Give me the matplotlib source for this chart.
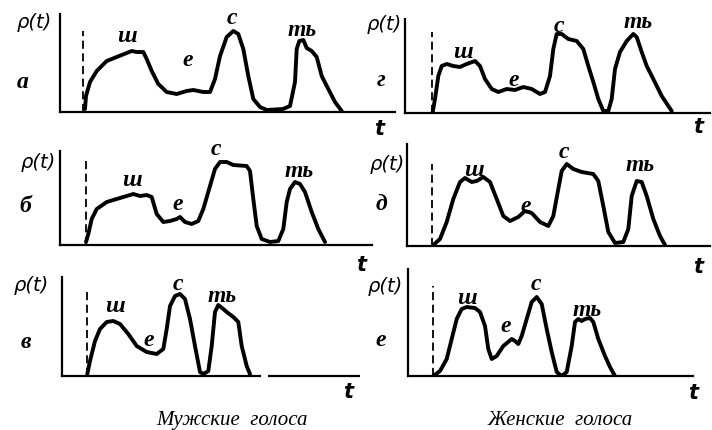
import matplotlib.pyplot as plt

W, H = 712, 431

# curve values: t and rho (panel units, origin at axes corner)
a_t = [25, 26, 30, 36.7, 46.7, 56.7, 66.7, 71.7, 76.7, 83.3, 86.7, 91.7, 98.3, 106.7, 116.7, 126.7,
       133.3, 143.3, 150, 155, 160, 166.7, 173.3, 178.3, 183.3, 188.3, 193.3, 200, 206.7, 223,
       230, 235, 236.7, 239.3, 243.3, 246.7, 251.7, 256.7, 261.7, 268.3, 275, 281.7]
a_p = [3, 16, 30, 41, 51, 55, 59, 61, 60, 60, 53, 41, 28, 20, 18, 21,
       22, 20, 20, 33, 56, 75, 81, 78, 63, 36, 13, 5, 2, 3,
       6, 30, 63, 71, 72, 64, 61, 55, 36, 23, 10, 1]

b_t = [26, 28.3, 31.7, 36.7, 46.7, 56.7, 66.7, 73.3, 80, 86.7, 91.7, 96.7, 103.3, 110, 116.7, 120,
       125, 131.7, 138.3, 143.3, 150, 155, 160, 166.7, 173.3, 186.7, 190, 193.3, 196.7, 201.7,
       210, 218.3, 223.3, 226.7, 230, 235, 240, 245, 251.7, 258.3, 265]
b_p = [3, 11, 26, 36, 43, 46, 49, 51, 49, 50, 48, 31, 23, 24, 26, 28,
       23, 21, 24, 36, 59, 76, 83, 83, 80, 79, 74, 46, 19, 6,
       3, 4, 16, 43, 56, 63, 61, 53, 33, 16, 3]

v_t = [25.3, 28, 33, 38, 44.7, 51.3, 58, 66.3, 74.7, 84.7, 94.7, 101.3, 104.7, 108, 113, 118,
       123, 128, 133, 138, 141.3, 146.3, 149.7, 153, 156.3, 161.3, 164.7, 171.3, 176.3, 179.7,
       184.7, 188]
v_p = [2, 15, 35, 47, 54, 55, 52, 42, 30, 24, 22, 27, 47, 70, 80, 82,
       77, 57, 30, 4, 2, 5, 30, 64, 71, 67, 64, 59, 54, 30,
       10, 2]

g_t = [27.7, 30, 33.3, 36.7, 41.7, 48.3, 55, 61.7, 70, 75, 80, 86.7, 93.3, 101.7, 110, 118.3,
       126.7, 135, 140, 145, 148.3, 151.7, 156.7, 163.3, 171.7, 178.3, 183.3, 188.3, 193.3,
       198.3, 203.3, 206.7, 210, 215, 221.7, 228.3, 231.7, 236.7, 241.7, 248.3, 256.7, 266.7]
g_p = [1, 14, 37, 47, 49, 47, 46, 49, 52, 47, 34, 24, 21, 24, 23, 26,
       24, 19, 21, 37, 64, 79, 79, 74, 72, 64, 47, 31, 14,
       2, 2, 14, 44, 61, 72, 79, 76, 61, 47, 34, 17, 2]

d_t = [26.3, 33, 39.7, 46.3, 53, 58, 64.7, 69.7, 76.3, 83, 89.7, 96.3, 103, 111.3, 118, 124.7,
       133, 141.3, 146.3, 151.3, 154.7, 159.7, 166.3, 174.7, 186.3, 191.3, 196.3, 201.3, 208,
       216.3, 221.3, 224.7, 229.7, 234.7, 239.7, 246.3, 253, 258]
d_p = [1, 7, 24, 47, 64, 68, 64, 65, 69, 64, 47, 30, 25, 29, 35, 33,
       24, 20, 30, 57, 75, 82, 77, 74, 72, 65, 40, 14, 3,
       4, 17, 50, 65, 64, 50, 27, 10, 1]

e_t = [25.3, 32, 38.7, 43.7, 48.7, 53.7, 58.7, 67, 72, 77, 80.3, 83.7, 88.7, 95.3, 103.7, 107,
       110.3, 113.7, 118.7, 123.7, 128.7, 133.7, 138.7, 143.7, 148.7, 153.7, 158.7, 163.7,
       167, 170.3, 173.7, 177, 182, 185.3, 190.3, 197, 202, 207]
e_p = [0, 5, 17, 37, 57, 67, 69, 68, 64, 50, 27, 17, 20, 30, 37, 35,
       32, 40, 57, 74, 79, 72, 47, 24, 4, 0, 4, 30,
       54, 57, 55, 57, 58, 54, 37, 20, 9, 0]

panel_letters = ['а', 'б', 'в', 'г', 'д', 'е']
sound_labels = ['ш', 'е', 'с', 'ть']
captions = ['Мужские  голоса', 'Женские  голоса']

fig = plt.figure(figsize=(W / 100, H / 100), dpi=100)
fig.patch.set_facecolor('white')
SANS = dict(family='DejaVu Sans', style='italic', color='black')
CYR = dict(family='Liberation Serif', style='italic', color='black')


def fx(x, y):
    return x / W, 1 - y / H


# (x0, y0, width, height) in pixels, dashed line t, dashed top, letter pos, rho pos, t pos, sound label pos
panels = [
    (a_t, a_p, (60, 113, 335, 98), 23, 81, (23, 83), (52, 22), (379, 129),
     [(127, 37), (188, 61), (232, 19), (302, 30)]),
    (b_t, b_p, (60, 246, 312, 94), 26, 86, (25, 207), (56, 162), (361, 265),
     [(132, 181), (178, 205), (216, 150), (299, 172)]),
    (v_t, v_p, (62, 377, 298, 99), 25.3, 85, (26, 342), (49, 286), (348, 392),
     [(115, 307), (149, 341), (178, 284), (222, 297)]),
    (g_t, g_p, (405, 114, 305, 94), 26.7, 81, (381, 80), (402, 25), (698, 127),
     [(463, 52), (514, 80), (559, 27), (638, 22)]),
    (d_t, d_p, (407, 247, 303, 102), 24.7, 82, (381, 205), (405, 165), (698, 267),
     [(474, 170), (526, 206), (564, 152), (640, 166)]),
    (e_t, e_p, (408, 377, 285, 107), 24.7, 90, (381, 340), (403, 287), (693, 393),
     [(467, 299), (506, 327), (536, 285), (587, 311)]),
]

for i, (t, p, box, dash_t, dash_top, let_pos, rho_pos, t_pos, snd_pos) in enumerate(panels):
    x0, y0, w, h = box
    ax = fig.add_axes([x0 / W, (H - y0) / H, w / W, h / H])
    ax.set_xlim(0, w)
    ax.set_ylim(0, h)
    ax.patch.set_alpha(0)
    for s in ['top', 'right']:
        ax.spines[s].set_visible(False)
    for s in ['left', 'bottom']:
        ax.spines[s].set_linewidth(1.6)
    ax.set_xticks([])
    ax.set_yticks([])
    if i == 2:
        # broken time axis in panel в
        ax.spines['bottom'].set_bounds(0, 198)
        ax.plot([206, 298], [0, 0], color='black', lw=1.6, clip_on=False, solid_capstyle='butt')
    ax.vlines(dash_t, 0, dash_top, colors='black', lw=1.3, linestyles=(0, (4.5, 2.5)))
    ax.plot(t, p, color='black', lw=2.8, solid_joinstyle='round', solid_capstyle='round')

    fig.text(*fx(*let_pos), panel_letters[i], ha='center', va='center', fontsize=17,
             fontweight='bold', **CYR)
    fig.text(*fx(*rho_pos), 'ρ(t)', ha='right', va='center', fontsize=14, **SANS)
    fig.text(*fx(*t_pos), 't', ha='center', va='center', fontsize=15, fontweight='bold', **SANS)
    for lab, pos in zip(sound_labels, snd_pos):
        fig.text(*fx(*pos), lab, ha='center', va='center', fontsize=17, fontweight='bold', **CYR)

fig.text(*fx(232, 421), captions[0], ha='center', va='center', fontsize=15, **CYR)
fig.text(*fx(560, 421), captions[1], ha='center', va='center', fontsize=15, **CYR)

fig.savefig('out.png', dpi=100, facecolor='white')
